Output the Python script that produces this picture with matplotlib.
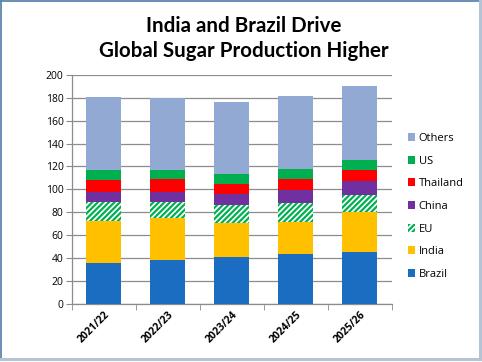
import matplotlib
matplotlib.use("Agg")
import matplotlib.pyplot as plt
from matplotlib.lines import Line2D
from matplotlib.patches import Patch
import numpy as np

categories = ["2021/22", "2022/23", "2023/24", "2024/25", "2025/26"]
brazil = [35.3, 38.0, 41.2, 43.8, 45.0]
india = [37.0, 37.3, 29.7, 28.0, 35.5]
eu = [16.7, 13.7, 15.5, 16.6, 14.9]
china = [9.0, 9.0, 9.9, 11.1, 11.6]
thailand = [10.5, 11.0, 8.7, 9.9, 10.3]
us = [8.5, 8.0, 8.8, 8.7, 8.4]
others = [64.0, 62.7, 62.2, 63.6, 64.5]

series_names = ["Brazil", "India", "EU", "China", "Thailand", "US", "Others"]
series_vals = [brazil, india, eu, china, thailand, us, others]
colors = ["#1A6DC0", "#FFC000", "#00B050", "#7030A0", "#FF0000", "#00B050", "#92A9D4"]

plt.rcParams['font.family'] = ['Open Sans', 'DejaVu Sans']
plt.rcParams['hatch.linewidth'] = 1.6

fig = plt.figure(figsize=(4.82, 3.62), dpi=100)
ax = fig.add_axes([0.149, 0.161, 0.664, 0.632])

x = np.arange(len(categories))
bottom = np.zeros(len(categories))
handles = []
for name, vals, col in zip(series_names, series_vals, colors):
    vals = np.array(vals)
    if name == "EU":
        ax.bar(x, vals, 0.55, bottom=bottom, color="white", edgecolor=col,
               hatch="//////", linewidth=0, zorder=3)
        handles.append(Patch(facecolor="white", edgecolor=col, hatch="//////", linewidth=0, label=name))
    else:
        ax.bar(x, vals, 0.55, bottom=bottom, color=col, linewidth=0, zorder=3)
        handles.append(Patch(facecolor=col, linewidth=0, label=name))
    bottom += vals

ax.set_xlim(-0.5, len(categories) - 0.5)
ax.set_ylim(0, 200)
ax.set_yticks(np.arange(0, 201, 20))
ax.yaxis.grid(True, color="#8C8C8C", linewidth=0.9, zorder=0)
ax.set_axisbelow(True)
for s in ["top", "right"]:
    ax.spines[s].set_visible(False)
for s in ["left", "bottom"]:
    ax.spines[s].set_color("#8C8C8C")
    ax.spines[s].set_linewidth(0.9)
ax.tick_params(axis="y", labelsize=7.5, length=4, color="#8C8C8C", pad=2)
ax.set_xticks(x)
ax.set_xticklabels(categories, rotation=45, ha="right", rotation_mode="anchor",
                   fontsize=7.5, fontweight="bold")
ax.tick_params(axis="x", length=0, pad=4)
ax.set_xticks(np.arange(-0.5, len(categories)), minor=True)
ax.tick_params(axis="x", which="minor", length=4, color="#8C8C8C")

leg = fig.legend(handles[::-1], series_names[::-1], loc="center left",
                 bbox_to_anchor=(0.825, 0.43), frameon=False, fontsize=8,
                 handlelength=0.7, handleheight=0.7, handletextpad=0.3,
                 labelspacing=1.05)

fig.text(0.505, 0.893, "India and Brazil Drive\nGlobal Sugar Production Higher",
         ha="center", va="center", fontsize=14.8, fontweight="bold",
         family=["Lato", "DejaVu Sans"], linespacing=1.3)

# frame
fig.add_artist(Line2D([0.002, 0.002], [0.008, 0.998], color="#4F7BA8", lw=1.2, transform=fig.transFigure))
fig.add_artist(Line2D([0.002, 0.996], [0.998, 0.998], color="#4F7BA8", lw=1.2, transform=fig.transFigure))
fig.add_artist(Line2D([0.002, 0.996], [0.008, 0.008], color="#B4C4D6", lw=2.2, transform=fig.transFigure))
fig.add_artist(Line2D([0.996, 0.996], [0.008, 0.998], color="#B4C4D6", lw=2.2, transform=fig.transFigure))

fig.savefig("out.png", dpi=100)
